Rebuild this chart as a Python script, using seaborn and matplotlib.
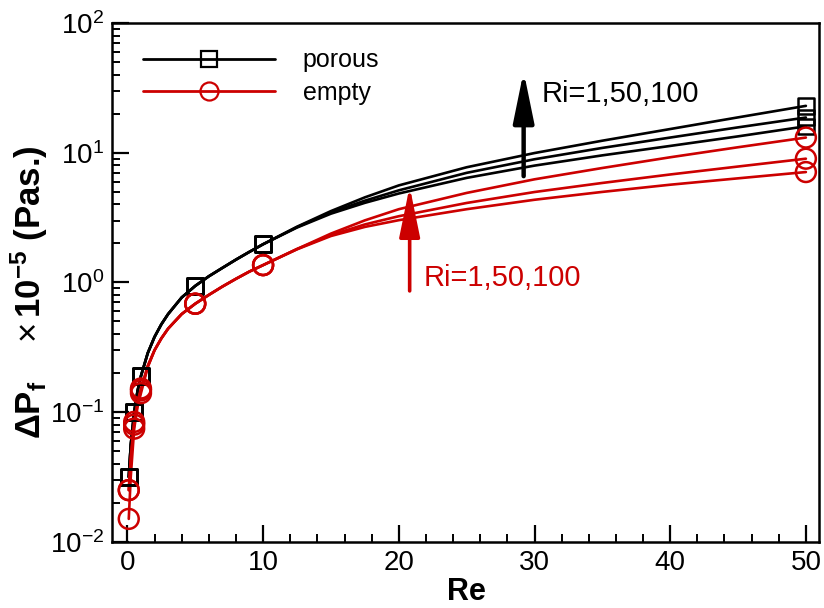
import matplotlib
matplotlib.use("Agg")
import matplotlib.pyplot as plt
import numpy as np
import pandas as pd
import seaborn as sns
from matplotlib.lines import Line2D
from matplotlib.ticker import MultipleLocator, LogLocator, NullFormatter

# Reynolds numbers along each curve and the subset carrying markers
re_curve = [0.1, 0.25, 0.5, 0.75, 1, 1.5, 2, 2.5, 3, 4, 5, 6, 7, 8, 9, 10,
            12.5, 15, 17.5, 20, 25, 30, 35, 40, 45, 50]
re_marked = [0.1, 0.5, 1, 5, 10, 50]
ri_values = [1, 50, 100]

# Friction pressure drop (x1e-5 Pa) in the porous channel
porous_ri1 = [0.0316, 0.056, 0.100, 0.146, 0.190, 0.285, 0.380, 0.475, 0.570, 0.765, 0.94,
              1.115, 1.294, 1.499, 1.723, 1.97, 2.65, 3.39, 4.11, 4.85, 6.40, 7.96,
              9.55, 11.29, 13.38, 16.0]
porous_ri50 = [0.0316, 0.056, 0.100, 0.146, 0.190, 0.285, 0.380, 0.475, 0.570, 0.765, 0.94,
               1.115, 1.294, 1.499, 1.723, 1.97, 2.67, 3.47, 4.27, 5.13, 7.00, 8.91,
               10.9, 13.1, 15.7, 18.7]
porous_ri100 = [0.0316, 0.056, 0.100, 0.146, 0.190, 0.285, 0.380, 0.475, 0.570, 0.765, 0.94,
                1.115, 1.294, 1.499, 1.723, 1.97, 2.69, 3.55, 4.53, 5.60, 7.73, 9.95,
                12.39, 15.24, 18.75, 23.0]

# Friction pressure drop (x1e-5 Pa) in the empty channel
empty_ri1 = [0.0150, 0.032, 0.0745, 0.110, 0.140, 0.222, 0.300, 0.370, 0.440, 0.570, 0.685,
             0.801, 0.929, 1.066, 1.214, 1.36, 1.80, 2.28, 2.68, 3.02, 3.67, 4.34,
             4.99, 5.67, 6.35, 7.10]
empty_ri50 = [0.0250, 0.043, 0.0800, 0.115, 0.147, 0.225, 0.300, 0.370, 0.440, 0.570, 0.685,
              0.801, 0.929, 1.066, 1.214, 1.36, 1.81, 2.32, 2.80, 3.24, 4.10, 4.98,
              5.85, 6.80, 7.83, 9.00]
empty_ri100 = [0.0250, 0.045, 0.0840, 0.120, 0.152, 0.228, 0.300, 0.370, 0.440, 0.570, 0.685,
               0.801, 0.929, 1.066, 1.214, 1.36, 1.81, 2.38, 3.01, 3.67, 4.90, 6.24,
               7.63, 9.23, 11.03, 13.1]

legend_labels = ["porous", "empty"]
ri_label = "Ri=1,50,100"

RED = "#CC0000"
colors = {"porous": "black", "empty": RED}
markers = {"porous": "s", "empty": "o"}
marker_sizes = {"porous": 125, "empty": 205}

rows = []
for medium, series in (("porous", [porous_ri1, porous_ri50, porous_ri100]),
                       ("empty", [empty_ri1, empty_ri50, empty_ri100])):
    for ri, vals in zip(ri_values, series):
        for re_, v in zip(re_curve, vals):
            rows.append({"Re": re_, "dp": v, "Ri": ri, "medium": medium})
df = pd.DataFrame(rows)
marks = df[df["Re"].isin(re_marked)]

sns.set_style("ticks")
plt.rcParams["font.family"] = ["Liberation Sans", "DejaVu Sans"]
plt.rcParams["mathtext.fontset"] = "custom"
plt.rcParams["mathtext.rm"] = "Liberation Sans"
plt.rcParams["mathtext.it"] = "Liberation Sans:italic"
plt.rcParams["mathtext.bf"] = "Liberation Sans:bold"
for key in ("text.color", "axes.labelcolor", "xtick.color", "ytick.color",
            "axes.edgecolor"):
    plt.rcParams[key] = "black"

fig = plt.figure(figsize=(8.24, 6.08), dpi=100)
ax = fig.add_axes([0.1365, 0.109, 0.858, 0.853])

for medium in ["porous", "empty"]:
    sub = df[df["medium"] == medium]
    sns.lineplot(data=sub, x="Re", y="dp", units="Ri", estimator=None,
                 color=colors[medium], lw=1.9, sort=True, legend=False, ax=ax)
    msub = marks[marks["medium"] == medium]
    sns.scatterplot(data=msub, x="Re", y="dp", marker=markers[medium],
                    s=marker_sizes[medium], color=colors[medium],
                    facecolor="none", edgecolor=colors[medium],
                    linewidth=1.8, legend=False, ax=ax, zorder=3)

ax.set_yscale("log")
ax.set_xlim(-1.1, 51)
ax.set_ylim(1e-2, 1e2)

ax.xaxis.set_major_locator(MultipleLocator(10))
ax.xaxis.set_minor_locator(MultipleLocator(2))
ax.yaxis.set_major_locator(LogLocator(base=10, numticks=10))
ax.yaxis.set_minor_locator(LogLocator(base=10, subs=np.arange(2, 10), numticks=20))
ax.yaxis.set_minor_formatter(NullFormatter())

ax.tick_params(which="major", direction="in", length=12, width=1.6,
               labelsize=20, top=False, right=False, pad=6)
ax.tick_params(which="minor", direction="in", length=5.5, width=1.4,
               top=False, right=False)
for sp in ax.spines.values():
    sp.set_linewidth(1.8)
    sp.set_color("black")

ax.set_xlabel("Re", fontsize=22, fontweight="bold", labelpad=1)
ax.set_ylabel(r"ΔP$_\mathbf{f}$    $\times\,$10$^{\mathbf{-5}}$ (Pas.)",
              fontsize=25, fontweight="bold")
ax.yaxis.set_label_coords(-0.088, 0.482)

handles = [Line2D([], [], color=colors[m], lw=2.0, marker=markers[m],
                  markersize=11 if m == "porous" else 13,
                  markerfacecolor="none", markeredgecolor=colors[m],
                  markeredgewidth=1.6) for m in ["porous", "empty"]]
ax.legend(handles, legend_labels, loc="upper left", frameon=False,
          fontsize=18, handlelength=5.3, handletextpad=1.1,
          labelspacing=0.35, borderaxespad=0.3, bbox_to_anchor=(0.018, 0.985))

# Direction of increasing Richardson number for each medium
ax.annotate("", xy=(29.2, 42.5), xytext=(29.2, 6.6),
            arrowprops=dict(arrowstyle="-|>,head_length=2.2,head_width=0.45",
                            mutation_scale=14, lw=3.2, color="black",
                            shrinkA=0, shrinkB=0))
ax.text(30.5, 28.2, ri_label, ha="left", va="center", fontsize=21, color="black")

ax.annotate("", xy=(20.8, 5.5), xytext=(20.8, 0.86),
            arrowprops=dict(arrowstyle="-|>,head_length=2.2,head_width=0.45",
                            mutation_scale=14, lw=2.6, color=RED,
                            shrinkA=0, shrinkB=0))
ax.text(21.8, 1.09, ri_label, ha="left", va="center", fontsize=21, color=RED)

fig.savefig("out.png", dpi=100)
